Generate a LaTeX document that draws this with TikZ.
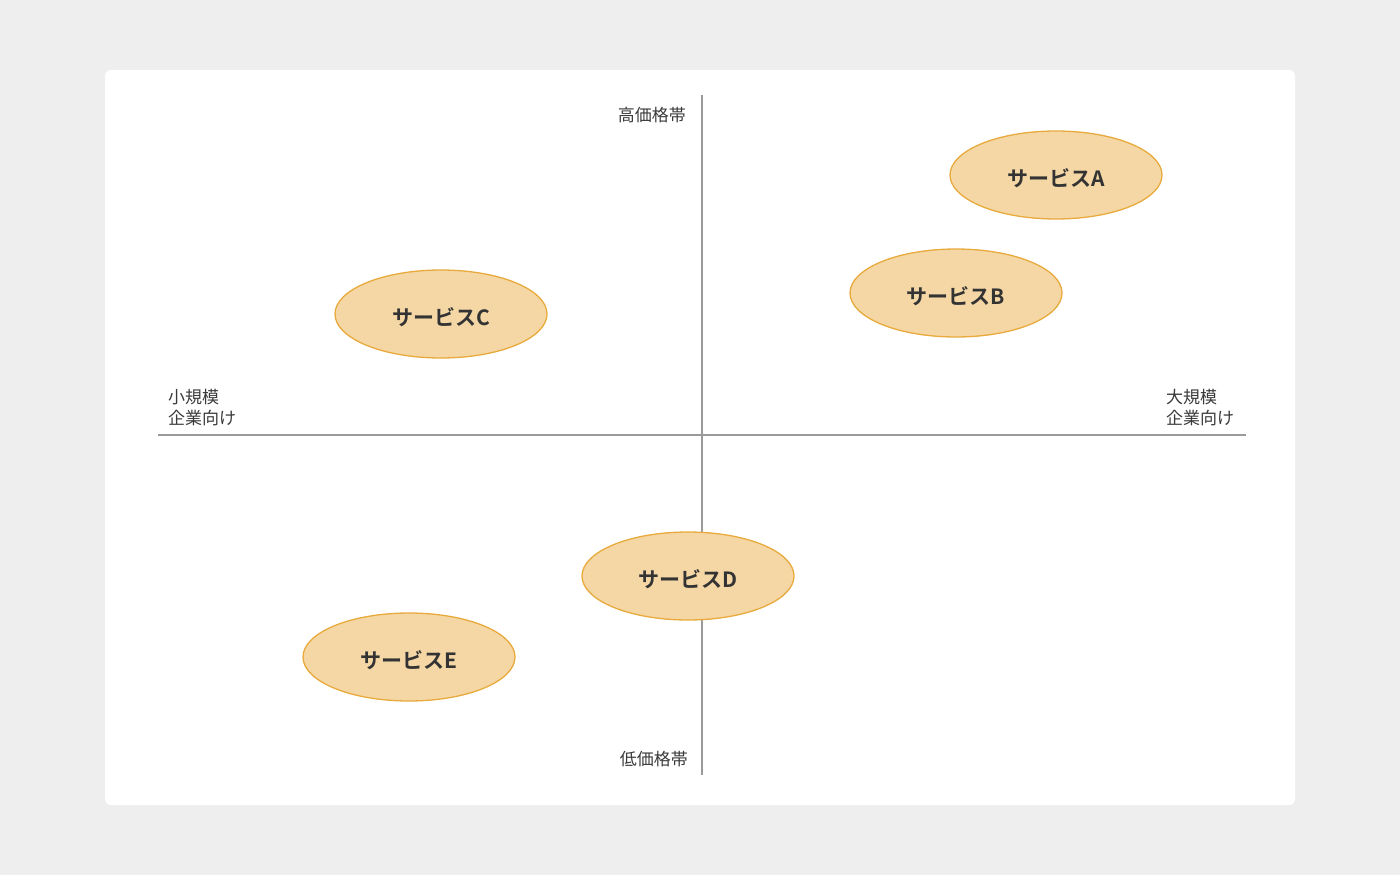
\documentclass[tikz,border=0pt]{standalone}
\usepackage{fontspec}
\setmainfont{Noto Sans CJK JP}
\newfontfamily\jpbold{Noto Sans CJK JP Bold}
\usetikzlibrary{shapes.geometric}
\definecolor{bgc}{HTML}{EEEEEE}
\definecolor{axisc}{HTML}{9A9A9A}
\definecolor{ellfill}{HTML}{F5D7A5}
\definecolor{elldraw}{HTML}{E8AA3C}
\definecolor{txtc}{HTML}{333333}
\definecolor{lblc}{HTML}{3A3A3A}
\newcommand{\svclabel}[1]{\raisebox{-3pt}[\height][\depth]{#1}}
\begin{document}
\begin{tikzpicture}[x=1pt,y=-1pt,
  svc/.style={ellipse, draw=elldraw, fill=ellfill, line width=1.3pt, minimum width=212pt, minimum height=88pt, inner sep=0pt, text=txtc, font=\jpbold\fontsize{21}{25}\selectfont},
  axlbl/.style={text=lblc, font=\fontsize{17}{21}\selectfont, inner sep=0pt, align=left}]
\useasboundingbox (0,0) rectangle (1400,875);
\fill[bgc] (0,0) rectangle (1400,875);
\fill[white, rounded corners=6pt] (105,70) rectangle (1295,805);
\coordinate (top) at (702,95);
\coordinate (bot) at (702,775);
\coordinate (left) at (158,435);
\coordinate (right) at (1246,435);
\draw[axisc, line width=1.3pt] (top) -- (bot);
\draw[axisc, line width=1.3pt] (left) -- (right);
\node[axlbl, anchor=east] (hi) at (686,115) {高価格帯};
\node[axlbl, anchor=east] (lo) at (688,759) {低価格帯};
\node[axlbl, anchor=west] (sm) at (168,408) {小規模\\企業向け};
\node[axlbl, anchor=west] (lg) at (1166,408) {大規模\\企業向け};
\node[svc] (A) at (1056,175) {\svclabel{サービスA}};
\node[svc] (B) at (956,293) {\svclabel{サービスB}};
\node[svc] (C) at (441,314) {\svclabel{サービスC}};
\node[svc] (D) at (688,576) {\svclabel{サービスD}};
\node[svc] (E) at (409,657) {\svclabel{サービスE}};
\end{tikzpicture}
\end{document}
